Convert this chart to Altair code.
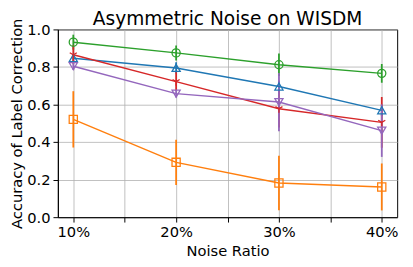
import altair as alt
import pandas as pd

title_text = ["Asymmetric Noise on WISDM"]
ratios = [10, 20, 30, 40]
series = ["Blue", "Orange", "Green", "Red", "Purple"]
colors = ["#1f77b4", "#ff7f0e", "#2ca02c", "#d62728", "#9467bd"]
shapes = ["triangle-up", "square", "circle",
          "M0,0L0,1M0,0L-0.866,-0.5M0,0L0.866,-0.5", "triangle-down"]

blue_mean = [0.847, 0.795, 0.696, 0.569]
blue_err = [0.02, 0.03, 0.03, 0.03]
orange_mean = [0.521, 0.292, 0.182, 0.161]
orange_err = [0.15, 0.12, 0.145, 0.125]
green_mean = [0.932, 0.875, 0.812, 0.766]
green_err = [0.04, 0.04, 0.06, 0.05]
red_mean = [0.865, 0.722, 0.578, 0.505]
red_err = [0.05, 0.05, 0.10, 0.135]
purple_mean = [0.804, 0.658, 0.613, 0.461]
purple_err = [0.02, 0.02, 0.155, 0.14]

means = [blue_mean, orange_mean, green_mean, red_mean, purple_mean]
errs = [blue_err, orange_err, green_err, red_err, purple_err]

rows = []
for si, name in enumerate(series):
    for i, r in enumerate(ratios):
        rows.append({"series": name, "order": si, "ratio": r,
                     "mean": means[si][i],
                     "low": means[si][i] - errs[si][i],
                     "high": means[si][i] + errs[si][i]})
df = pd.DataFrame(rows)

xscale = alt.Scale(domain=[8.5, 41.5], nice=False, zero=False)
yscale = alt.Scale(domain=[0, 1], nice=False)
cscale = alt.Scale(domain=series, range=colors)
sscale = alt.Scale(domain=series, range=shapes)

yaxis = alt.Axis(values=[0, 0.2, 0.4, 0.6, 0.8, 1.0], format=".1f",
                 labelOverlap=False, labelFlush=False)
x = alt.X("ratio:Q", scale=xscale, title="Noise Ratio",
          axis=alt.Axis(values=[10, 15, 20, 25, 30, 35, 40],
                        labelExpr="datum.value % 10 == 0 ? datum.value + '%' : ''",
                        labelFlush=False, labelOverlap=False))
y = alt.Y("mean:Q", scale=yscale, title="Accuracy of Label Correction", axis=yaxis)
ylow = alt.Y("low:Q", scale=yscale, title="Accuracy of Label Correction", axis=yaxis)

base = alt.Chart(df)
rules = base.mark_rule(strokeWidth=1.8).encode(
    x=x, y=ylow, y2="high:Q",
    color=alt.Color("series:N", scale=cscale, legend=None),
    order="order:Q")
lines = base.mark_line(strokeWidth=1.5).encode(
    x=x, y=y, color=alt.Color("series:N", scale=cscale, legend=None),
    detail="series:N")
points = base.mark_point(filled=False, size=70, strokeWidth=1.3, opacity=1).encode(
    x=x, y=y, color=alt.Color("series:N", scale=cscale, legend=None),
    shape=alt.Shape("series:N", scale=sscale, legend=None))
title = alt.Chart(pd.DataFrame({"t": title_text})).mark_text(
    font="DejaVu Sans", fontSize=19, baseline="alphabetic", align="center",
    color="black").encode(x=alt.value(173.5), y=alt.value(-5), text="t:N")

chart = alt.layer(rules, lines, points, title).properties(
    width=347, height=192,
    autosize=alt.AutoSizeParams(type="none"),
    padding={"left": 51, "top": 19, "right": 8, "bottom": 46},
).configure_view(stroke="black", strokeWidth=1).configure_axis(
    labelFont="DejaVu Sans", titleFont="DejaVu Sans",
    labelFontSize=15, titleFontSize=15, titleFontWeight="normal",
    labelColor="black", titleColor="black",
    domainColor="black", tickColor="black", tickSize=5,
    gridColor="#b0b0b0", gridWidth=0.8, labelPadding=3,
).configure_axisY(titlePadding=2).configure_axisX(titlePadding=4)

chart.save("out.html", embed_options={"renderer": "svg", "actions": False})
